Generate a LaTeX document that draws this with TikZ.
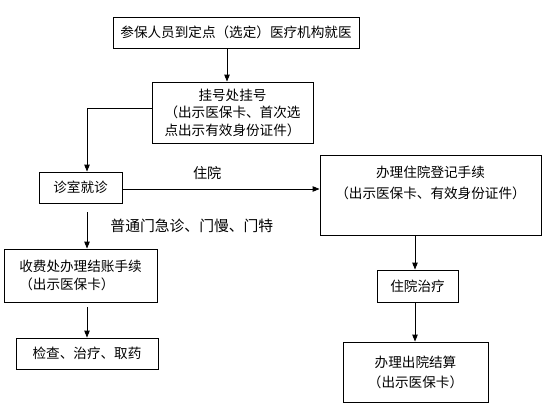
\documentclass[tikz,border=0pt]{standalone}
\usepackage{fontspec}
\newfontfamily\cjk{Noto Sans CJK SC}
\usetikzlibrary{arrows.meta, positioning}
\tikzset{
  % The 'flow-box' style is a thin black frame holding the step text
  flow-box/.style={draw=black, line width=0.9pt, align=center, inner sep=2pt,
    font=\cjk\fontsize{13.6}{19}\selectfont},
  % The 'flow-arrow' style is a thin line ending in a small solid triangle
  flow-arrow/.style={draw=black, line width=0.9pt, -{Triangle[length=7pt, width=5.5pt]}},
  % The 'flow-label' style is for the plain text written beside the lines
  flow-label/.style={inner sep=0pt, text=black, font=\cjk\fontsize{14.2}{19}\selectfont}
}
\begin{document}
\begin{tikzpicture}[x=1pt, y=-1pt]

  % Fix the page to the size of the picture
  \useasboundingbox (0,0) rectangle (554,416);

  % Lanes that the vertical arrows run along
  \coordinate (top-lane) at (227,0);
  \coordinate (left-lane) at (87,0);
  \coordinate (right-lane) at (415,0);

  % Top of the chart: going to the hospital and registering
  \node[flow-box, minimum width=246, minimum height=31] at (236,32.5) (visit) {参保人员到定点（选定）医疗机构就医};
  \node[flow-box, minimum width=161, minimum height=61, font=\cjk\fontsize{13.6}{17.5}\selectfont] at (232.5,112.5) (register) {挂号处挂号\\（出示医保卡、首次选\\点出示有效身份证件）};

  % Left column: outpatient route
  \node[flow-box, minimum width=83, minimum height=31] at (80.5,187.5) (clinic) {诊室就诊};
  \node[flow-box, minimum width=153, minimum height=53, align=left, font=\cjk\fontsize{13.6}{18}\selectfont] at (80.5,275.5) (charge) {收费处办理结账手续\\（出示医保卡）};
  \node[flow-box, minimum width=142, minimum height=31] at (87,353.5) (check) {检查、治疗、取药};

  % Right column: inpatient route
  \node[flow-box, minimum width=221, minimum height=80, font=\cjk\fontsize{13.6}{21}\selectfont] at (430.5,195) (admit) {办理住院登记手续\\（出示医保卡、有效身份证件）\\[4pt]\mbox{}};
  \node[flow-box, minimum width=81, minimum height=32] at (417.5,286) (ward) {住院治疗};
  \node[flow-box, minimum width=145, minimum height=60, font=\cjk\fontsize{13.6}{20}\selectfont] at (415.5,372) (discharge) {办理出院结算\\（出示医保卡）};

  % Arrows between the steps
  \draw[flow-arrow] (top-lane |- visit.south) -- (top-lane |- register.north);
  \draw[flow-arrow] ([yshift=4.5pt]register.west) -| (left-lane |- clinic.north);
  \draw[flow-arrow] ([yshift=-1.5pt]clinic.east) -- ([yshift=-1.5pt]clinic.east -| admit.west)
    node[flow-label, above=9pt, pos=0.43] (inpatient) {住院};
  \draw[flow-arrow, shorten <=9pt] (left-lane |- clinic.south) -- (left-lane |- charge.north)
    node[flow-label, right=23pt, midway, font=\cjk\fontsize{14.8}{19}\selectfont] (outpatient) {普通门急诊、门慢、门特};
  \draw[flow-arrow, shorten <=5pt] (left-lane |- charge.south) -- (left-lane |- check.north);
  \draw[flow-arrow] (right-lane |- admit.south) -- (right-lane |- ward.north);
  \draw[flow-arrow] (right-lane |- ward.south) -- (right-lane |- discharge.north);

\end{tikzpicture}
\end{document}
